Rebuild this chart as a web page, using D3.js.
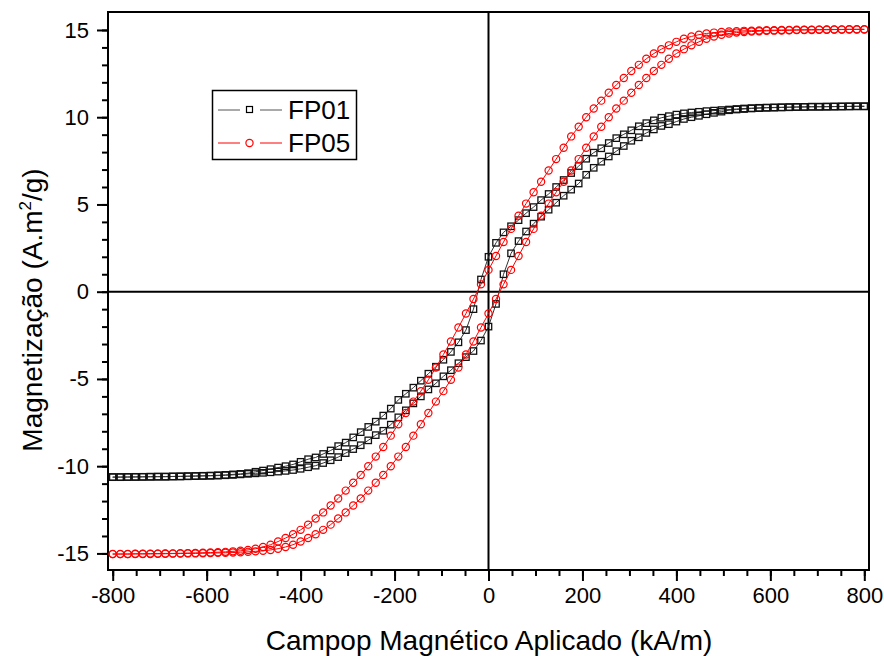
<!DOCTYPE html>
<html>
<head>
<meta charset="utf-8">
<script src="https://cdn.jsdelivr.net/npm/d3@7"></script>
<style>
  body { margin: 0; background: #fff; }
  text { font-family: "Liberation Sans", Arial, sans-serif; fill: #000; }
</style>
</head>
<body>
<svg width="884" height="656"></svg>
<script>
// field values (kA/m), same grid for both branches
const campo = [-800,-784,-768,-752,-736,-720,-704,-688,-672,-656,
  -640,-624,-608,-592,-576,-560,-544,-528,-512,-496,
  -480,-464,-448,-432,-416,-400,-384,-368,-352,-336,
  -320,-304,-288,-272,-256,-240,-224,-208,-192,-176,
  -160,-144,-128,-112,-96,-80,-64,-48,-32,-16,
  0,16,32,48,64,80,96,112,128,144,
  160,176,192,208,224,240,256,272,288,304,
  320,336,352,368,384,400,416,432,448,464,
  480,496,512,528,544,560,576,592,608,624,
  640,656,672,688,704,720,736,752,768,784,800];

// FP01 - descending branch (+800 -> -800), listed on the campo grid
const fp01Desc = [-10.63,-10.63,-10.62,-10.62,-10.61,-10.61,-10.6,-10.6,-10.59,-10.58,
  -10.57,-10.56,-10.55,-10.54,-10.52,-10.5,-10.47,-10.44,-10.4,-10.32,
  -10.25,-10.17,-10.08,-10.0,-9.9,-9.75,-9.6,-9.5,-9.3,-9.1,
  -8.85,-8.65,-8.35,-8.05,-7.75,-7.45,-7.1,-6.7,-6.2,-5.85,
  -5.5,-5.1,-4.7,-4.3,-3.9,-3.45,-2.9,-2.2,-1.0,0.7,
  2.0,2.8,3.4,3.75,4.1,4.5,4.85,5.25,5.6,6.0,
  6.4,6.8,7.2,7.62,7.97,8.22,8.52,8.8,9.02,9.25,
  9.48,9.66,9.82,9.97,10.06,10.15,10.22,10.27,10.31,10.35,
  10.38,10.41,10.44,10.47,10.5,10.52,10.54,10.55,10.56,10.57,
  10.58,10.59,10.59,10.6,10.6,10.6,10.61,10.61,10.62,10.62,10.62];

// FP01 - ascending branch (-800 -> +800)
const fp01Asc = [-10.62,-10.62,-10.62,-10.61,-10.61,-10.6,-10.6,-10.6,-10.59,-10.59,
  -10.58,-10.57,-10.56,-10.55,-10.54,-10.52,-10.5,-10.47,-10.44,-10.41,
  -10.38,-10.35,-10.31,-10.27,-10.22,-10.15,-10.06,-9.97,-9.82,-9.66,
  -9.48,-9.25,-9.02,-8.8,-8.52,-8.22,-7.97,-7.62,-7.2,-6.8,
  -6.4,-6.0,-5.6,-5.25,-4.85,-4.5,-4.1,-3.75,-3.4,-2.8,
  -2.0,-0.7,1.0,2.2,2.9,3.45,3.9,4.3,4.7,5.1,
  5.5,5.85,6.2,6.7,7.1,7.45,7.75,8.05,8.35,8.65,
  8.85,9.1,9.3,9.5,9.6,9.75,9.9,10.0,10.08,10.17,
  10.25,10.32,10.4,10.44,10.47,10.5,10.52,10.54,10.55,10.56,
  10.57,10.58,10.59,10.6,10.6,10.61,10.61,10.62,10.62,10.63,10.63];

// FP05 - descending branch
const fp05Desc = [-15.03,-15.03,-15.03,-15.02,-15.02,-15.01,-15.01,-15.0,-15.0,-14.99,
  -14.98,-14.97,-14.96,-14.95,-14.93,-14.91,-14.88,-14.85,-14.8,-14.73,
  -14.63,-14.5,-14.32,-14.12,-13.9,-13.65,-13.35,-13.0,-12.65,-12.25,
  -11.85,-11.4,-10.95,-10.5,-10.0,-9.45,-8.9,-8.25,-7.6,-6.95,
  -6.3,-5.7,-5.05,-4.35,-3.6,-2.85,-2.05,-1.25,-0.42,0.42,
  1.25,2.05,2.85,3.6,4.35,5.05,5.7,6.3,6.95,7.6,
  8.25,8.9,9.45,10.0,10.5,10.95,11.4,11.85,12.25,12.65,
  13.0,13.35,13.65,13.9,14.12,14.32,14.5,14.63,14.73,14.8,
  14.85,14.88,14.91,14.93,14.95,14.96,14.97,14.98,14.99,15.0,
  15.0,15.01,15.01,15.02,15.02,15.03,15.03,15.03,15.04,15.04,15.04];

// FP05 - ascending branch
const fp05Asc = [-15.04,-15.04,-15.04,-15.03,-15.03,-15.03,-15.02,-15.02,-15.01,-15.01,
  -15.0,-15.0,-14.99,-14.98,-14.97,-14.96,-14.95,-14.93,-14.91,-14.88,
  -14.85,-14.8,-14.73,-14.63,-14.5,-14.32,-14.12,-13.9,-13.65,-13.35,
  -13.0,-12.65,-12.25,-11.85,-11.4,-10.95,-10.5,-10.0,-9.45,-8.9,
  -8.25,-7.6,-6.95,-6.3,-5.7,-5.05,-4.35,-3.6,-2.85,-2.05,
  -1.25,-0.42,0.42,1.25,2.05,2.85,3.6,4.35,5.05,5.7,
  6.3,6.95,7.6,8.25,8.9,9.45,10.0,10.5,10.95,11.4,
  11.85,12.25,12.65,13.0,13.35,13.65,13.9,14.12,14.32,14.5,
  14.63,14.73,14.8,14.85,14.88,14.91,14.93,14.95,14.96,14.97,
  14.98,14.99,15.0,15.0,15.01,15.01,15.02,15.02,15.03,15.03,15.03];

const xTicks = [-800, -600, -400, -200, 0, 200, 400, 600, 800];
const yTicks = [-15, -10, -5, 0, 5, 10, 15];
const amostras = ["FP01", "FP05"];
const cores = ["#000000", "#ff0000"];

let svg = d3.select("svg");

let mLeft = 108, mRight = 869, mTop = 12, mBottom = 570;

let x = d3.scaleLinear().domain([-810, 810]).range([mLeft, mRight]);
let y = d3.scaleLinear().domain([-15.95, 16.03]).range([mBottom, mTop]);

// whole loop: descending branch first, then ascending
function loop(desc, asc) {
    let pts = campo.map((h, i) => [h, desc[i]]).reverse();
    return pts.concat(campo.map((h, i) => [h, asc[i]]));
}

let dados = [loop(fp01Desc, fp01Asc), loop(fp05Desc, fp05Asc)];

// minor ticks
svg.append("g")
    .attr("transform", `translate(0,${mBottom})`)
    .call(d3.axisBottom(x).tickValues(d3.range(-800, 801, 50)).tickSize(6).tickFormat(""))
    .call(g => g.select(".domain").remove());
svg.append("g")
    .attr("transform", `translate(${mLeft},0)`)
    .call(d3.axisLeft(y).tickValues(d3.range(-15, 16, 1)).tickSize(6).tickFormat(""))
    .call(g => g.select(".domain").remove());

// major ticks + labels
let xAxis = svg.append("g")
    .attr("transform", `translate(0,${mBottom})`)
    .call(d3.axisBottom(x).tickValues(xTicks).tickSize(11).tickPadding(6).tickFormat(d => String(d)));
xAxis.select(".domain").remove();
xAxis.attr("font-family", null).attr("font-size", null);
xAxis.selectAll("text").style("font-size", "22px");

let yAxis = svg.append("g")
    .attr("transform", `translate(${mLeft},0)`)
    .call(d3.axisLeft(y).tickValues(yTicks).tickSize(11).tickPadding(8).tickFormat(d => String(d)));
yAxis.select(".domain").remove();
yAxis.attr("font-family", null).attr("font-size", null);
yAxis.selectAll("text").style("font-size", "22px");

svg.selectAll(".tick line").attr("stroke", "#000").attr("stroke-width", 2);

// zero lines
svg.append("line")
    .attr("x1", x(0)).attr("x2", x(0)).attr("y1", mTop).attr("y2", mBottom)
    .attr("stroke", "#000").attr("stroke-width", 2);
svg.append("line")
    .attr("x1", mLeft).attr("x2", mRight).attr("y1", y(0)).attr("y2", y(0))
    .attr("stroke", "#000").attr("stroke-width", 2);

// frame
svg.append("rect")
    .attr("x", mLeft).attr("y", mTop)
    .attr("width", mRight - mLeft).attr("height", mBottom - mTop)
    .attr("fill", "none").attr("stroke", "#000").attr("stroke-width", 2);

let linha = d3.line().x(d => x(d[0])).y(d => y(d[1]));

// FP01 - squares
svg.append("path")
    .attr("d", linha(dados[0]))
    .attr("fill", "none").attr("stroke", "#333").attr("stroke-width", 1);
svg.append("g")
    .selectAll("rect")
    .data(dados[0])
    .enter()
    .append("rect")
    .attr("x", d => x(d[0]) - 3.2)
    .attr("y", d => y(d[1]) - 3.2)
    .attr("width", 6.4).attr("height", 6.4)
    .attr("fill", "none").attr("stroke", "#111").attr("stroke-width", 1.3);

// FP05 - circles
svg.append("path")
    .attr("d", linha(dados[1]))
    .attr("fill", "none").attr("stroke", "#ff0000").attr("stroke-width", 1);
svg.append("g")
    .selectAll("circle")
    .data(dados[1])
    .enter()
    .append("circle")
    .attr("cx", d => x(d[0]))
    .attr("cy", d => y(d[1]))
    .attr("r", 3.6)
    .attr("fill", "none").attr("stroke", "#ff0000").attr("stroke-width", 1.2);

// legend
let leg = svg.append("g");
leg.append("rect")
    .attr("x", 212.5).attr("y", 90.5).attr("width", 144).attr("height", 69)
    .attr("fill", "#fff").attr("stroke", "#000").attr("stroke-width", 1.5);
amostras.forEach((nome, i) => {
    let ly = 110 + i * 33;
    let cor = i == 0 ? "#555" : cores[1];
    leg.append("line").attr("x1", 218).attr("x2", 240).attr("y1", ly).attr("y2", ly)
        .attr("stroke", cor).attr("stroke-width", 1);
    leg.append("line").attr("x1", 260).attr("x2", 282).attr("y1", ly).attr("y2", ly)
        .attr("stroke", cor).attr("stroke-width", 1);
    if (i == 0) {
        leg.append("rect").attr("x", 246.5).attr("y", ly - 3.5).attr("width", 6).attr("height", 6)
            .attr("fill", "none").attr("stroke", "#000").attr("stroke-width", 1.2);
    } else {
        leg.append("circle").attr("cx", 249.5).attr("cy", ly).attr("r", 3.6)
            .attr("fill", "none").attr("stroke", cores[1]).attr("stroke-width", 1.2);
    }
    leg.append("text")
        .attr("x", 288).attr("y", ly + 9)
        .style("font-size", "26px")
        .text(nome);
});

// axis titles
svg.append("text")
    .attr("text-anchor", "middle")
    .attr("x", 489).attr("y", 650)
    .style("font-size", "28px")
    .text("Campop Magnético Aplicado (kA/m)");

let yt = svg.append("text")
    .attr("text-anchor", "middle")
    .attr("transform", "translate(42,310) rotate(-90)")
    .style("font-size", "28px");
yt.append("tspan").text("Magnetização (A.m");
yt.append("tspan").attr("dy", -11).style("font-size", "17px").text("2");
yt.append("tspan").attr("dy", 11).text("/g)");
</script>
</body>
</html>
